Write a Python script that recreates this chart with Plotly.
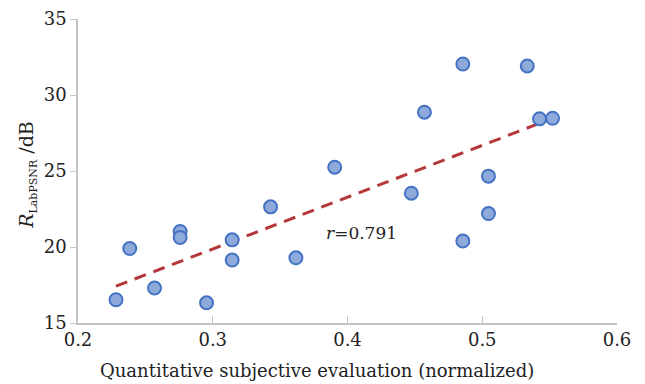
import numpy as np
import plotly.graph_objects as go

x_vals = [0.2282, 0.2384, 0.2568, 0.2758, 0.2758, 0.2954, 0.3144, 0.3144, 0.3429, 0.3617,
          0.3905, 0.4474, 0.4571, 0.4856, 0.4856, 0.5046, 0.5046, 0.5334, 0.5425, 0.5522]
y_vals = [16.53, 19.90, 17.30, 21.02, 20.63, 16.33, 20.47, 19.14, 22.64, 19.29,
          25.25, 23.54, 28.87, 32.04, 20.39, 24.66, 22.20, 31.91, 28.43, 28.47]
x_ticks = [0.2, 0.3, 0.4, 0.5, 0.6]
y_ticks = [15, 20, 25, 30, 35]
r_text = "<i>r</i>=0.791"
x_title = "Quantitative subjective evaluation (normalized)"
y_title = "<i>R</i><sub><span style='font-size:11px'>LabPSNR</span></sub> /dB"

xa = np.array(x_vals)
ya = np.array(y_vals)
slope, intercept = np.polyfit(xa, ya, 1)
fit_x = [xa.min(), xa.max()]
fit_y = [slope * v + intercept for v in fit_x]

FONT = "DejaVu Serif"

fig = go.Figure()
fig.add_trace(go.Scatter(x=fit_x, y=fit_y, mode="lines",
                         line=dict(color="#b5373a", width=3, dash="12px,8px"),
                         hoverinfo="skip", showlegend=False))
fig.add_trace(go.Scatter(x=x_vals, y=y_vals, mode="markers",
                         marker=dict(size=13, color="#8eaadb",
                                     line=dict(color="#4472c4", width=2)),
                         showlegend=False))

fig.add_annotation(x=0.4106, y=20.93, text=r_text, showarrow=False,
                   font=dict(family=FONT, size=17, color="#222"))
fig.add_annotation(x=0.444, y=-0.155, xref="paper", yref="paper", text=x_title,
                   showarrow=False, xanchor="center", yanchor="middle",
                   font=dict(family=FONT, size=18, color="#222"))
fig.add_annotation(x=-0.093, y=0.487, xref="paper", yref="paper", text=y_title,
                   showarrow=False, xanchor="center", yanchor="middle", textangle=-90,
                   font=dict(family=FONT, size=19, color="#222"))

fig.update_layout(
    width=645, height=384,
    margin=dict(l=78, r=28, t=19, b=61),
    paper_bgcolor="white", plot_bgcolor="white",
    font=dict(family=FONT, size=18, color="#222"),
    xaxis=dict(range=[0.2, 0.6], tickvals=x_ticks, ticktext=[f"{t:.1f}" for t in x_ticks],
               automargin=False,
               showgrid=False, zeroline=False, showline=True, linecolor="#c4c4c4",
               linewidth=1.5, ticks="inside", ticklen=7, tickcolor="#c4c4c4"),
    yaxis=dict(range=[15, 35], tickvals=y_ticks, automargin=False,
               showgrid=False, zeroline=False, showline=True, linecolor="#c4c4c4",
               linewidth=1.5, ticks="outside", ticklen=6, tickcolor="#c4c4c4"),
)
fig.write_html("out.html", config={"displayModeBar": False},
               post_script="document.body.style.margin='0';")
